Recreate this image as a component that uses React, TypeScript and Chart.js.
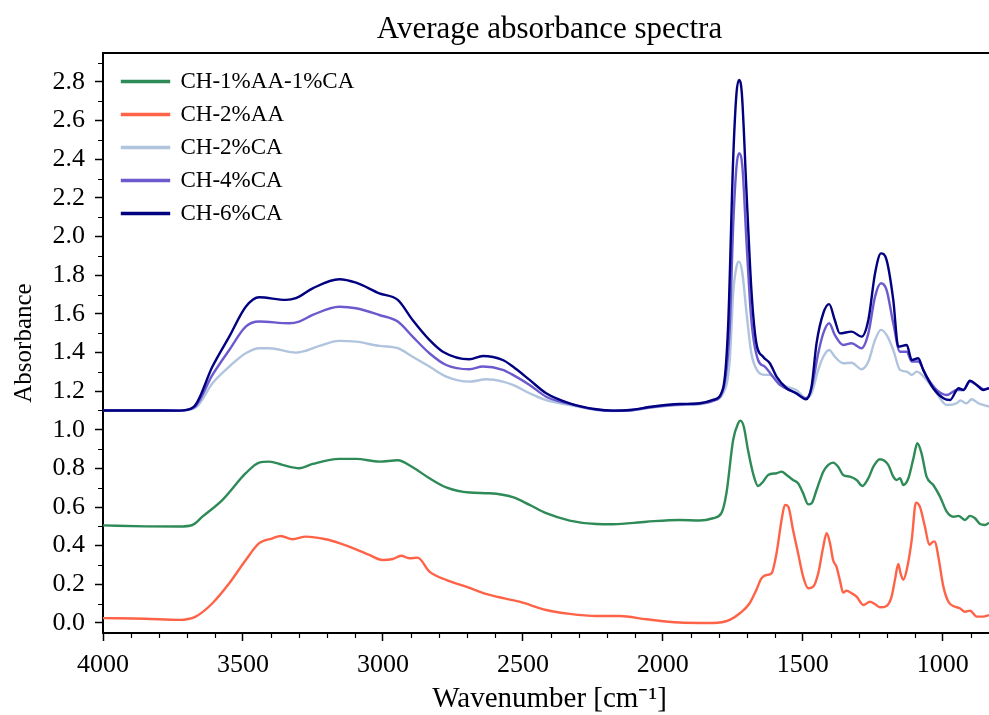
import React, { useEffect, useRef } from 'react';
import { Chart, registerables } from 'chart.js';

Chart.register(...registerables);

const FONT = '"Liberation Serif", "Times New Roman", serif';

const TITLE = 'Average absorbance spectra';
const X_LABEL = 'Wavenumber [cm⁻¹]';
const Y_LABEL = 'Absorbance';

const SERIES_NAMES = ['CH-1%AA-1%CA', 'CH-2%AA', 'CH-2%CA', 'CH-4%CA', 'CH-6%CA'];
const SERIES_COLORS = ['#2e8b57', '#ff6347', '#b0c4de', '#6a5acd', '#000080'];

const X_TICKS = [4000, 3500, 3000, 2500, 2000, 1500, 1000];
const Y_TICKS = [0.0, 0.2, 0.4, 0.6, 0.8, 1.0, 1.2, 1.4, 1.6, 1.8, 2.0, 2.2, 2.4, 2.6, 2.8];
const X_MIN = 810;
const X_MAX = 4000;
const Y_MIN = -0.052;
const Y_MAX = 2.95;

// CH-1%AA-1%CA
const wnGreen = [4000, 3850, 3728, 3681, 3645, 3573, 3490, 3442, 3406, 3359, 3299, 3251, 3156, 3096, 3013, 2947, 2894, 2834, 2774, 2691, 2619, 2536, 2476, 2417, 2333, 2238, 2178, 2059, 1940, 1868, 1821, 1791, 1773, 1749, 1731, 1723, 1711, 1696, 1678, 1660, 1642, 1624, 1594, 1576, 1558, 1535, 1517, 1499, 1481, 1469, 1451, 1427, 1409, 1392, 1374, 1356, 1332, 1308, 1287, 1266, 1248, 1225, 1195, 1177, 1165, 1153, 1141, 1123, 1105, 1091, 1076, 1058, 1034, 1010, 986, 962, 944, 921, 903, 885, 867, 849, 835];
const absGreen = [0.505, 0.500, 0.499, 0.507, 0.550, 0.637, 0.775, 0.830, 0.835, 0.818, 0.801, 0.823, 0.849, 0.849, 0.835, 0.842, 0.806, 0.749, 0.702, 0.675, 0.671, 0.651, 0.611, 0.568, 0.530, 0.512, 0.511, 0.524, 0.533, 0.530, 0.542, 0.568, 0.671, 0.947, 1.034, 1.047, 1.016, 0.895, 0.775, 0.709, 0.731, 0.766, 0.775, 0.783, 0.766, 0.740, 0.723, 0.671, 0.614, 0.619, 0.688, 0.783, 0.818, 0.830, 0.809, 0.766, 0.757, 0.740, 0.709, 0.749, 0.809, 0.847, 0.818, 0.757, 0.740, 0.749, 0.714, 0.749, 0.852, 0.930, 0.878, 0.757, 0.714, 0.654, 0.576, 0.550, 0.554, 0.533, 0.554, 0.542, 0.512, 0.507, 0.519];

// CH-2%AA
const wnOrange = [4000, 3850, 3728, 3669, 3609, 3549, 3490, 3442, 3394, 3365, 3323, 3275, 3204, 3156, 3096, 3049, 3001, 2965, 2935, 2906, 2876, 2834, 2774, 2703, 2619, 2512, 2417, 2333, 2238, 2154, 2059, 1940, 1868, 1821, 1761, 1725, 1690, 1666, 1648, 1630, 1612, 1594, 1576, 1564, 1552, 1535, 1517, 1499, 1481, 1463, 1445, 1427, 1415, 1403, 1392, 1380, 1368, 1356, 1344, 1326, 1308, 1284, 1260, 1243, 1225, 1201, 1183, 1171, 1159, 1151, 1141, 1129, 1111, 1096, 1082, 1064, 1048, 1034, 1028, 1016, 998, 980, 956, 939, 921, 903, 879, 855, 835];
const absOrange = [0.025, 0.022, 0.016, 0.033, 0.102, 0.205, 0.326, 0.413, 0.438, 0.450, 0.433, 0.447, 0.433, 0.413, 0.381, 0.352, 0.326, 0.331, 0.348, 0.335, 0.338, 0.266, 0.223, 0.188, 0.145, 0.110, 0.067, 0.047, 0.036, 0.036, 0.019, 0.002, 0.000, 0.000, 0.016, 0.050, 0.102, 0.171, 0.231, 0.248, 0.257, 0.361, 0.533, 0.611, 0.602, 0.481, 0.361, 0.240, 0.180, 0.188, 0.257, 0.395, 0.464, 0.413, 0.326, 0.291, 0.223, 0.157, 0.167, 0.154, 0.136, 0.093, 0.110, 0.098, 0.081, 0.088, 0.136, 0.223, 0.305, 0.257, 0.223, 0.274, 0.430, 0.623, 0.602, 0.499, 0.404, 0.421, 0.421, 0.343, 0.188, 0.110, 0.084, 0.076, 0.058, 0.064, 0.033, 0.033, 0.041];

// CH-2%CA
const wnLight = [4000, 3850, 3728, 3669, 3609, 3549, 3490, 3442, 3406, 3311, 3275, 3227, 3156, 3096, 3013, 2947, 2894, 2834, 2774, 2691, 2631, 2572, 2536, 2476, 2417, 2333, 2238, 2178, 2119, 2035, 1940, 1868, 1821, 1785, 1761, 1749, 1737, 1728, 1716, 1701, 1684, 1660, 1636, 1618, 1594, 1558, 1523, 1489, 1469, 1445, 1427, 1406, 1386, 1356, 1326, 1290, 1266, 1242, 1221, 1201, 1177, 1153, 1129, 1111, 1093, 1058, 1022, 986, 950, 938, 915, 897, 873, 835];
const absLight = [1.100, 1.100, 1.099, 1.115, 1.241, 1.327, 1.396, 1.422, 1.422, 1.399, 1.409, 1.434, 1.460, 1.456, 1.434, 1.422, 1.378, 1.327, 1.275, 1.249, 1.261, 1.249, 1.232, 1.189, 1.154, 1.128, 1.102, 1.097, 1.100, 1.116, 1.128, 1.132, 1.150, 1.189, 1.361, 1.706, 1.844, 1.870, 1.810, 1.603, 1.396, 1.301, 1.284, 1.284, 1.258, 1.223, 1.206, 1.163, 1.189, 1.310, 1.378, 1.413, 1.378, 1.344, 1.347, 1.313, 1.353, 1.465, 1.517, 1.491, 1.413, 1.310, 1.301, 1.284, 1.301, 1.258, 1.189, 1.128, 1.137, 1.151, 1.137, 1.158, 1.137, 1.120];

// CH-4%CA
const wnPurple = [4000, 3850, 3728, 3675, 3609, 3549, 3490, 3442, 3335, 3299, 3251, 3156, 3096, 3013, 2947, 2894, 2834, 2774, 2691, 2643, 2572, 2536, 2476, 2417, 2333, 2238, 2178, 2119, 2035, 1940, 1868, 1821, 1785, 1761, 1749, 1737, 1728, 1716, 1701, 1684, 1660, 1636, 1612, 1582, 1535, 1489, 1469, 1445, 1427, 1406, 1386, 1356, 1326, 1290, 1266, 1242, 1221, 1201, 1177, 1153, 1129, 1111, 1088, 1058, 1022, 986, 950, 927, 903, 879, 855, 835];
const absPurple = [1.100, 1.100, 1.099, 1.115, 1.284, 1.413, 1.534, 1.560, 1.551, 1.560, 1.594, 1.637, 1.629, 1.594, 1.560, 1.482, 1.396, 1.335, 1.313, 1.327, 1.310, 1.284, 1.232, 1.171, 1.134, 1.104, 1.098, 1.100, 1.118, 1.130, 1.135, 1.150, 1.206, 1.534, 2.051, 2.362, 2.431, 2.362, 1.965, 1.568, 1.361, 1.327, 1.284, 1.232, 1.197, 1.163, 1.215, 1.396, 1.499, 1.551, 1.491, 1.439, 1.448, 1.422, 1.499, 1.689, 1.758, 1.724, 1.551, 1.404, 1.404, 1.353, 1.353, 1.275, 1.206, 1.180, 1.206, 1.206, 1.249, 1.232, 1.210, 1.215];

// CH-6%CA
const wnNavy = [4000, 3850, 3728, 3675, 3609, 3549, 3490, 3442, 3347, 3311, 3251, 3156, 3096, 3013, 2947, 2894, 2834, 2786, 2691, 2643, 2572, 2536, 2476, 2417, 2333, 2238, 2178, 2119, 2035, 1940, 1868, 1821, 1785, 1767, 1749, 1737, 1728, 1718, 1701, 1683, 1666, 1642, 1618, 1594, 1558, 1523, 1489, 1469, 1451, 1427, 1406, 1386, 1368, 1326, 1290, 1266, 1242, 1221, 1201, 1177, 1159, 1129, 1111, 1088, 1070, 1034, 998, 974, 944, 926, 903, 879, 855, 835];
const absNavy = [1.100, 1.100, 1.099, 1.120, 1.327, 1.482, 1.637, 1.686, 1.672, 1.681, 1.732, 1.779, 1.761, 1.706, 1.672, 1.568, 1.465, 1.404, 1.365, 1.382, 1.361, 1.327, 1.258, 1.189, 1.137, 1.106, 1.099, 1.102, 1.120, 1.133, 1.137, 1.154, 1.215, 1.534, 2.396, 2.742, 2.811, 2.742, 2.224, 1.706, 1.448, 1.378, 1.344, 1.275, 1.215, 1.189, 1.158, 1.223, 1.448, 1.603, 1.650, 1.568, 1.499, 1.508, 1.482, 1.568, 1.810, 1.913, 1.879, 1.672, 1.430, 1.439, 1.361, 1.370, 1.310, 1.215, 1.163, 1.154, 1.215, 1.206, 1.254, 1.232, 1.206, 1.215];

const SERIES_WN = [wnGreen, wnOrange, wnLight, wnPurple, wnNavy];
const SERIES_ABS = [absGreen, absOrange, absLight, absPurple, absNavy];

const framePlugin = {
  id: 'frameAndMinorTicks',
  afterDraw(chart: any) {
    const { ctx, chartArea: a, scales } = chart;
    const x = scales.x;
    const y = scales.y;
    ctx.save();
    ctx.strokeStyle = '#000';
    ctx.lineWidth = 1.2;
    ctx.beginPath();
    for (let v = 4000; v >= X_MIN; v -= 100) {
      if (v % 500 === 0) continue;
      const px = Math.round(x.getPixelForValue(v)) + 0.5;
      ctx.moveTo(px, a.bottom);
      ctx.lineTo(px, a.bottom + 5);
    }
    for (let k = 1; k < 30; k += 2) {
      const v = k / 10;
      if (v > Y_MAX) break;
      const py = Math.round(y.getPixelForValue(v)) + 0.5;
      ctx.moveTo(a.left - 5, py);
      ctx.lineTo(a.left, py);
    }
    ctx.stroke();
    ctx.lineWidth = 2;
    ctx.beginPath();
    ctx.moveTo(a.left - 1, a.top);
    ctx.lineTo(a.right, a.top);
    ctx.lineTo(a.right, a.bottom);
    ctx.stroke();
    ctx.restore();
  },
};

// place the legend inside the plot (upper left) and centre the title on the plot area
const placementPlugin = {
  id: 'placement',
  afterLayout(chart: any) {
    const a = chart.chartArea;
    const lg = chart.legend;
    if (lg) {
      const w = lg.width;
      const h = lg.height;
      lg.left = a.left + 9;
      lg.right = lg.left + w;
      lg.top = a.top + 7;
      lg.bottom = lg.top + h;
    }
    const tb = chart.titleBlock;
    if (tb) {
      tb.left = a.left;
      tb.right = a.right;
      tb.width = a.right - a.left;
    }
  },
};

export default function App() {
  const ref = useRef<HTMLCanvasElement>(null);

  useEffect(() => {
    const canvas = ref.current;
    if (!canvas) return;
    const drawOrder = [4, 3, 2, 1, 0];
    const datasets = SERIES_NAMES.map((name, i) => ({
      label: name,
      data: SERIES_WN[i].map((w, j) => ({ x: w, y: SERIES_ABS[i][j] })),
      borderColor: SERIES_COLORS[i],
      backgroundColor: SERIES_COLORS[i],
      borderWidth: 2.4,
      pointRadius: 0,
      fill: false,
      cubicInterpolationMode: 'monotone' as const,
      order: drawOrder[i],
    }));

    const chart = new Chart(canvas, {
      type: 'line',
      data: { datasets },
      plugins: [framePlugin, placementPlugin],
      options: {
        responsive: false,
        animation: false,
        devicePixelRatio: 1,
        events: [],
        layout: { padding: { left: 0, top: 0, right: 104, bottom: 0 } },
        plugins: {
          title: {
            display: true,
            text: TITLE,
            color: '#000',
            font: { family: FONT, size: 31, weight: 'normal' },
            padding: { top: 11, bottom: 4.8 },
          },
          legend: {
            position: 'chartArea',
            align: 'start',
            labels: {
              boxWidth: 47,
              boxHeight: 1,
              padding: 10,
              color: '#000',
              font: { family: FONT, size: 23 },
              sort: (a: any, b: any) => a.datasetIndex - b.datasetIndex,
            },
          },
          tooltip: { enabled: false },
        },
        scales: {
          x: {
            type: 'linear',
            reverse: true,
            min: X_MIN,
            max: X_MAX,
            afterBuildTicks: (s: any) => {
              s.ticks = X_TICKS.map((v) => ({ value: v }));
            },
            afterFit: (s: any) => {
              s.height = 82;
            },
            ticks: {
              color: '#000',
              font: { family: FONT, size: 26 },
              padding: 9,
              autoSkip: false,
              maxRotation: 0,
              callback: (v: any) => String(v),
            },
            grid: { drawOnChartArea: false, drawTicks: true, tickLength: 8, color: '#000', tickWidth: 1.5 },
            border: { display: true, color: '#000', width: 2 },
            title: {
              display: true,
              text: X_LABEL,
              color: '#000',
              font: { family: FONT, size: 29 },
              padding: { top: 0, bottom: -2 },
            },
          },
          y: {
            type: 'linear',
            min: Y_MIN,
            max: Y_MAX,
            afterBuildTicks: (s: any) => {
              s.ticks = Y_TICKS.map((v) => ({ value: v }));
            },
            afterFit: (s: any) => {
              s.width = 103;
            },
            ticks: {
              color: '#000',
              font: { family: FONT, size: 26 },
              padding: 10,
              autoSkip: false,
              callback: (v: any) => Number(v).toFixed(1),
            },
            grid: { drawOnChartArea: false, drawTicks: true, tickLength: 8, color: '#000', tickWidth: 1.5 },
            border: { display: true, color: '#000', width: 2 },
            title: {
              display: true,
              text: Y_LABEL,
              color: '#000',
              font: { family: FONT, size: 25 },
              padding: { top: 9, bottom: 0 },
            },
          },
        },
      } as any,
    });
    return () => chart.destroy();
  }, []);

  return (
    <div
      style={{
        position: 'absolute',
        left: 0,
        top: 0,
        width: 989,
        height: 715,
        overflow: 'hidden',
        background: '#fff',
      }}
    >
      <canvas ref={ref} width={1100} height={715} style={{ display: 'block', width: 1100, height: 715 }} />
    </div>
  );
}
